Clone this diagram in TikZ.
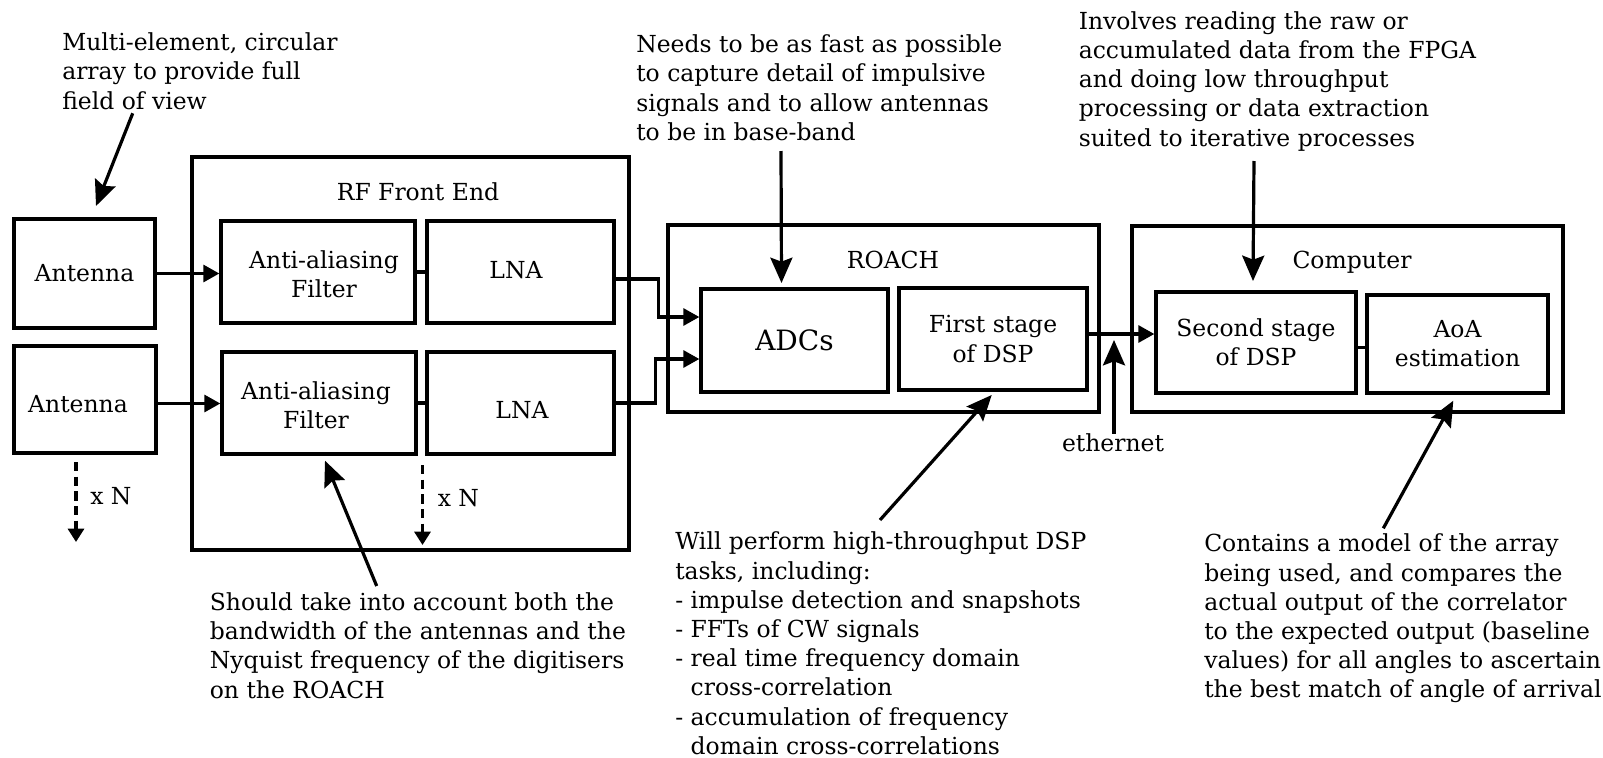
\documentclass[tikz,border=0pt]{standalone}
\usepackage{fontspec}
\setmainfont{DejaVu Serif}
\usetikzlibrary{arrows.meta,calc}
\begin{document}
\begin{tikzpicture}[x=0.75pt,y=-0.75pt,
  every node/.style={font=\fontsize{17.6pt}{21.9pt}\selectfont},
  box/.style={draw, line width=2.5pt, inner sep=0pt, align=center},
  sz/.style 2 args={minimum width=#1*0.75pt, minimum height=#2*0.75pt},
  sig/.style={line width=2.3pt, -{Triangle[length=12pt,width=12.75pt]}},
  ann/.style={line width=2.4pt, -{Stealth[length=19pt,width=16.5pt,inset=3pt]}},
  wire/.style={line width=2.3pt},
  note/.style={align=left, inner sep=0pt, anchor=north west},
  dsh/.style={line width=2.3pt, dash pattern=on 7pt off 4pt, -{Triangle[length=10pt,width=12pt]}},
  lbl/.style={inner sep=0pt, anchor=base}
]
\useasboundingbox (0,0) rectangle (1603,757);

% antennas
\node[box,sz={141}{109}] (ant1) at (84.5,273.5) {Antenna};
\node[box,sz={142}{107}] (ant2) at (85,399.5) {};
\node[lbl] (ant2t) at (78,412) {Antenna};

% RF front end
\node[box,sz={437}{393}] (rf) at (410.5,353.5) {};
\node[lbl] (rft) at (418,200) {RF Front End};
\node[box,sz={194}{102}] (aa1) at (318,272) {};
\node[lbl,align=center] (aa1t) at (324,297.3) {Anti-aliasing\\Filter};
\node[box,sz={187}{102}] (lna1) at (520.5,272) {};
\node[lbl] (lna1t) at (516,278) {LNA};
\node[box,sz={194}{102}] (aa2) at (319,403) {};
\node[lbl,align=center] (aa2t) at (316,428.3) {Anti-aliasing\\Filter};
\node[box,sz={187}{102}] (lna2) at (520.5,403) {};
\node[lbl] (lna2t) at (522,418) {LNA};

% ROACH
\node[box,sz={431}{187}] (roach) at (883.5,318.5) {};
\node[lbl] (roacht) at (893,268) {ROACH};
\node[box,sz={187}{103},font=\fontsize{21pt}{26pt}\selectfont] (adcs) at (794.5,340.5) {ADCs};
\node[box,sz={188}{102}] (fs) at (993,339) {First stage\\of DSP};

% Computer
\node[box,sz={431}{186}] (comp) at (1347.5,319) {};
\node[lbl] (compt) at (1352,268) {Computer};
\node[box,sz={200}{101}] (ss) at (1256,342.5) {Second stage\\of DSP};
\node[box,sz={181}{98}] (aoa) at (1457.5,344) {AoA\\estimation};

% signal connectors
\draw[sig] (ant1.east) -- (ant1.east -| aa1.west);
\draw[sig] ($(ant2.east)+(0,4)$) -- ($(ant2.east -| aa2.west)+(0,4)$);
\draw[wire] (aa1.east) -- (aa1.east -| lna1.west);
\draw[wire] (aa2.east) -- (aa2.east -| lna2.west);
\draw[sig] ($(lna1.east)+(0,7)$) -- ++(43,0) |- ($(adcs.west)+(0,-23.5)$);
\draw[sig] (lna2.east) -- ++(40,0) |- ($(adcs.west)+(0,18.5)$);
\draw[sig] ($(fs.east)+(0,-5)$) -- ($(fs.east -| ss.west)+(0,-5)$);
\draw[wire] ($(ss.east)+(0,5)$) -- ($(ss.east -| aoa.west)+(0,5)$);

% ethernet
\node[lbl] (eth) at (1113,451.7) {ethernet};
\coordinate (ethtip) at (1114,340);
\draw[ann] (eth.north -| ethtip) -- (ethtip);

% x N
\coordinate (d1a) at (76,462);
\coordinate (d1b) at (76,542);
\draw[dsh] (d1a) -- (d1b);
\node[lbl,anchor=base west] (xn1) at (90,504) {x N};
\coordinate (d2a) at (422.5,465);
\coordinate (d2b) at (422.5,545);
\draw[dsh] (d2a) -- (d2b);
\node[lbl,anchor=base west] (xn2) at (437.5,506.7) {x N};

% annotations
\node[note] (multi) at (62,32.7) {Multi-element, circular\\array to provide full\\field of view};
\coordinate (multitail) at (132.7,113.3);
\coordinate (multitip) at (96,206);
\draw[ann] (multitail) -- (multitip);

\node[note] (needs) at (636,34.7) {Needs to be as fast as possible\\to capture detail of impulsive\\signals and to allow antennas\\to be in base-band};
\coordinate (needstail) at (781,151);
\coordinate (needstip) at (781.5,283);
\draw[ann] (needstail) -- (needstip);

\node[note] (inv) at (1078.5,11.2) {Involves reading the raw or\\accumulated data from the FPGA\\and doing low throughput\\processing or data extraction\\suited to iterative processes};
\coordinate (invtail) at (1254,161);
\coordinate (invtip) at (1253,281);
\draw[ann] (invtail) -- (invtip);

\node[note] (should) at (209.6,592.3) {Should take into account both the\\bandwidth of the antennas and the\\Nyquist frequency of the digitisers\\on the ROACH};
\coordinate (shouldtail) at (376.7,586);
\coordinate (shouldtip) at (325,460.7);
\draw[ann] (shouldtail) -- (shouldtip);

\node[note] (will) at (675,531.7) {Will perform high-throughput DSP\\tasks, including:\\- impulse detection and snapshots\\- FFTs of CW signals\\- real time frequency domain\\\phantom{- }cross-correlation\\- accumulation of frequency\\\phantom{- }domain cross-correlations};
\coordinate (willtail) at (880,520);
\coordinate (willtip) at (991.7,395);
\draw[ann] (willtail) -- (willtip);

\node[note] (cont) at (1204,533.7) {Contains a model of the array\\being used, and compares the\\actual output of the correlator\\to the expected output (baseline\\values) for all angles to ascertain\\the best match of angle of arrival};
\coordinate (conttail) at (1383.3,528.3);
\coordinate (conttip) at (1453.3,400.7);
\draw[ann] (conttail) -- (conttip);
\end{tikzpicture}
\end{document}
